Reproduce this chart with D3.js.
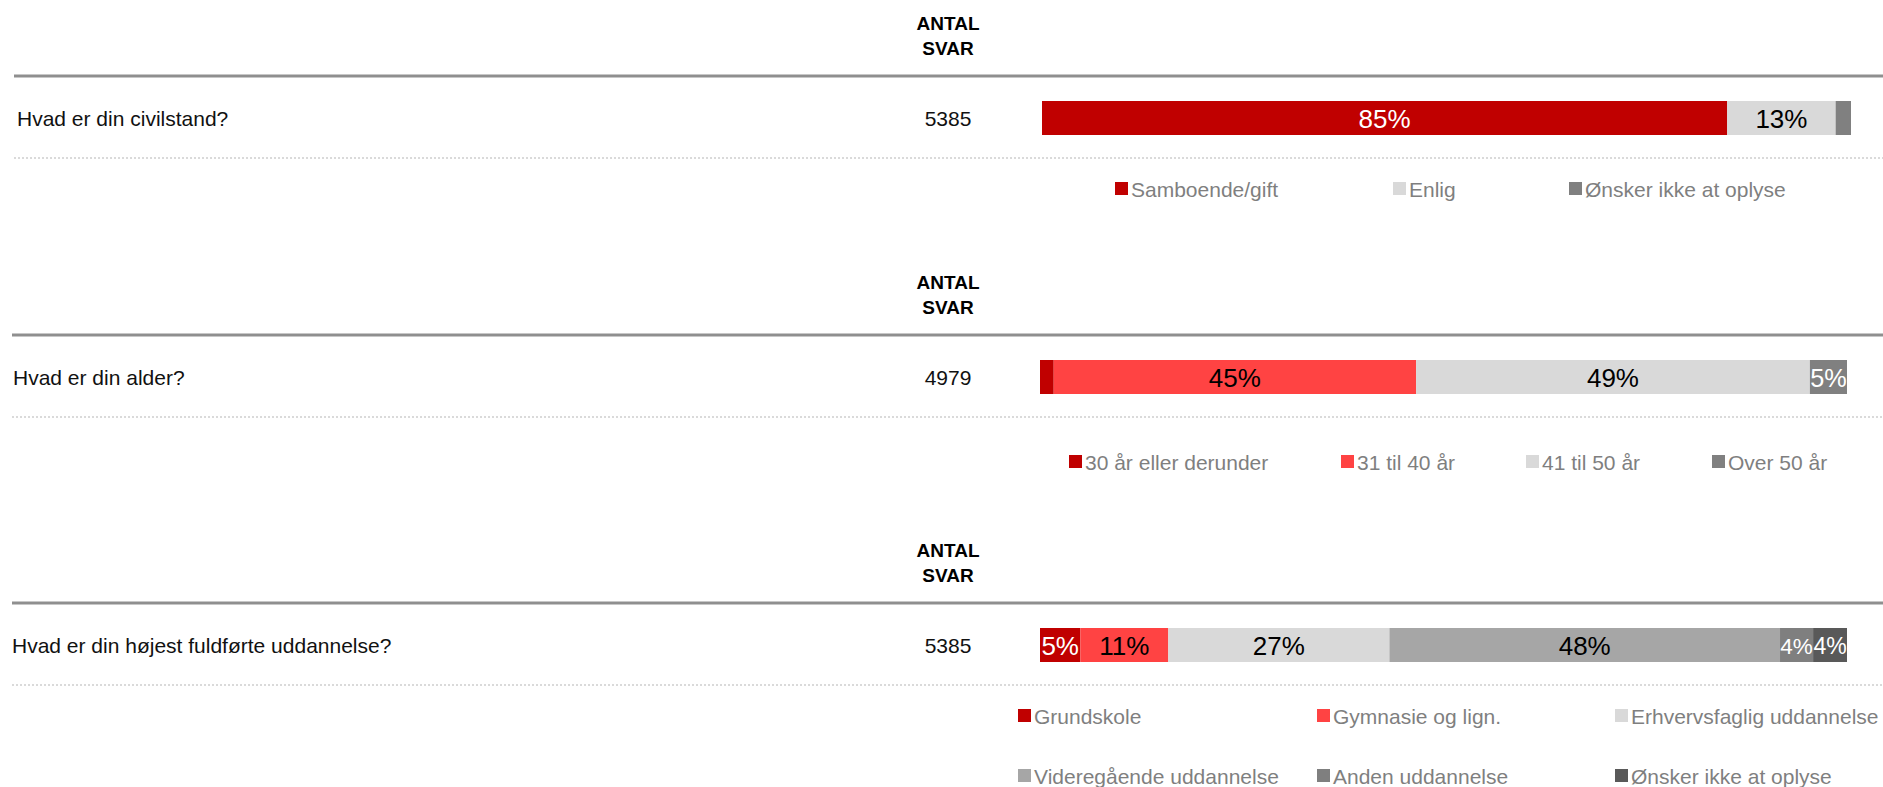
<!DOCTYPE html>
<html>
<head>
<meta charset="utf-8">
<script src="https://cdn.jsdelivr.net/npm/d3@7"></script>
<style>
  body { margin: 0; background: #fff; }
  text { font-family: "Liberation Sans", Arial, sans-serif; }
</style>
</head>
<body>
<div class="chart-holder"></div>
<script>
// data
let questions = ['Hvad er din civilstand?', 'Hvad er din alder?', 'Hvad er din højest fuldførte uddannelse?']
let answerCounts = [5385, 4979, 5385]

let civilKeys = ['Samboende/gift', 'Enlig', 'Ønsker ikke at oplyse']
let civilValues = [84.7, 13.4, 1.9]
let civilColors = ['#C00000', '#D9D9D9', '#808080']

let ageKeys = ['30 år eller derunder', '31 til 40 år', '41 til 50 år', 'Over 50 år']
let ageValues = [1.7, 44.9, 48.8, 4.6]
let ageColors = ['#C00000', '#FF4343', '#D9D9D9', '#808080']

let eduKeys = ['Grundskole', 'Gymnasie og lign.', 'Erhvervsfaglig uddannelse',
               'Videregående uddannelse', 'Anden uddannelse', 'Ønsker ikke at oplyse']
let eduValues = [5.0, 10.9, 27.4, 48.4, 4.1, 4.2]
let eduColors = ['#C00000', '#FF4343', '#D9D9D9', '#A6A6A6', '#7F7F7F', '#595959']

// layout
let width = 1883
let height = 787
let panelTop = [76, 335, 603]          // y of thick rule
let lineStart = [14, 12, 12]
let questionX = [17, 13, 12]
let barRange = [[1042, 1851], [1040, 1847], [1040, 1847]]
let legendDy = [113, 127, 113]
let legendCols = [[1115, 1393, 1569], [1069, 1341, 1526, 1712], [1018, 1317, 1615]]
let countX = 948

let panels = [
    { keys: civilKeys, values: civilValues, colors: civilColors },
    { keys: ageKeys, values: ageValues, colors: ageColors },
    { keys: eduKeys, values: eduValues, colors: eduColors }
]

let svg = d3.select('.chart-holder')
    .append('svg')
        .attr('width', width)
        .attr('height', height)

panels.forEach(function(p, i){
    let top = panelTop[i]
    let g = svg.append('g').attr('class', 'panel')

    // header
    let header = g.append('text')
        .attr('x', countX).attr('text-anchor', 'middle')
        .style('font-weight', 'bold').style('font-size', '19px')
        .attr('fill', '#000')
    header.append('tspan').attr('x', countX).attr('y', top - 46).text('ANTAL')
    header.append('tspan').attr('x', countX).attr('y', top - 21).text('SVAR')

    g.append('line')
        .attr('x1', lineStart[i]).attr('x2', width)
        .attr('y1', top).attr('y2', top)
        .attr('stroke', '#8f8f8f').attr('stroke-width', 3)

    g.append('text')
        .attr('x', questionX[i]).attr('y', top + 42)
        .attr('dominant-baseline', 'central')
        .style('font-size', '21px').attr('fill', '#111')
        .text(questions[i])

    g.append('text')
        .attr('x', countX).attr('y', top + 42)
        .attr('text-anchor', 'middle').attr('dominant-baseline', 'central')
        .style('font-size', '21px').attr('fill', '#111')
        .text(answerCounts[i])

    g.append('line')
        .attr('x1', lineStart[i]).attr('x2', width)
        .attr('y1', top + 82).attr('y2', top + 82)
        .attr('stroke', '#b5b5b5').attr('stroke-width', 1)
        .attr('stroke-dasharray', '2,2')

    // stacked bar
    let x = d3.scaleLinear().domain([0, 100]).range(barRange[i])
    let color = d3.scaleOrdinal().domain(p.keys).range(p.colors)
    let starts = d3.cumsum([0].concat(p.values))
    let segs = p.keys.map((k, j) => ({ key: k, value: p.values[j], x0: starts[j], x1: starts[j + 1] }))

    let bar = g.append('g').attr('class', 'bar')
    bar.selectAll('rect')
        .data(segs)
        .enter()
        .append('rect')
            .attr('x', d => x(d.x0))
            .attr('width', d => x(d.x1) - x(d.x0))
            .attr('y', top + 25).attr('height', 34)
            .attr('fill', d => color(d.key))

    // labels shrink a little in the narrow segments so they don't run into each other
    bar.selectAll('text')
        .data(segs.filter(d => d.value >= 3))
        .enter()
        .append('text')
            .attr('x', d => (x(d.x0) + x(d.x1)) / 2)
            .attr('y', top + 43)
            .attr('text-anchor', 'middle').attr('dominant-baseline', 'central')
            .style('font-size', d => Math.min(26, (x(d.x1) - x(d.x0)) / 1.47) + 'px')
            .attr('fill', d => d3.hsl(color(d.key)).l > 0.6 ? '#000' : '#fff')
            .text(d => Math.round(d.value) + '%')

    // legend
    let cols = legendCols[i]
    let legend = g.append('g').attr('class', 'legend')
        .selectAll('g')
        .data(p.keys)
        .enter()
        .append('g')
            .attr('transform', (d, j) => 'translate(' + cols[j % cols.length] + ',' +
                (top + legendDy[i] + Math.floor(j / cols.length) * 60) + ')')

    legend.append('rect')
        .attr('x', 0).attr('y', -7)
        .attr('width', 13).attr('height', 13)
        .attr('fill', d => color(d))

    legend.append('text')
        .attr('x', 16).attr('y', 0)
        .attr('dominant-baseline', 'central')
        .style('font-size', '21px').attr('fill', '#7f7f7f')
        .text(d => d)
})
</script>
</body>
</html>
